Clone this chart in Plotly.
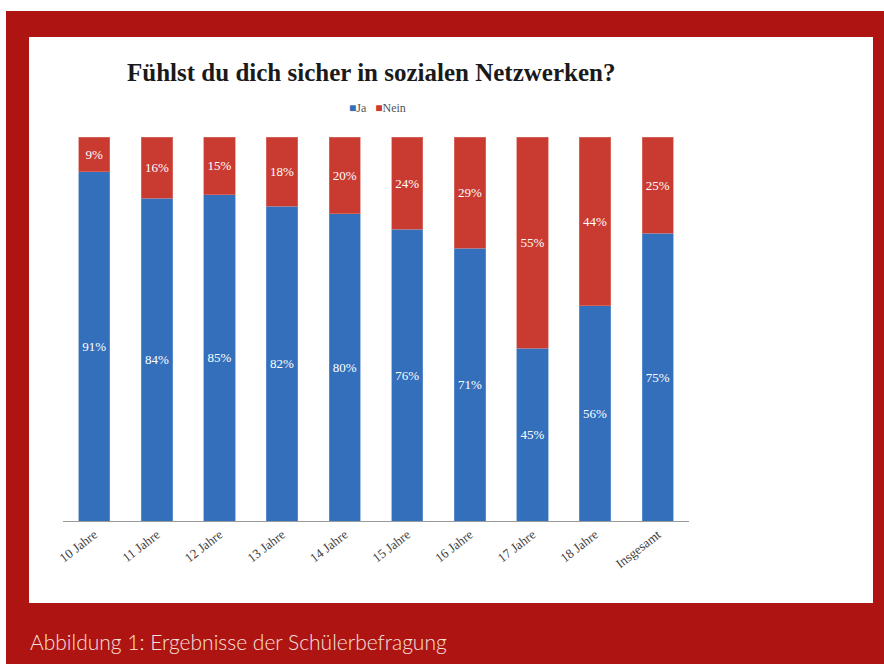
import plotly.graph_objects as go

# Survey results by age group
categories = ["10 Jahre", "11 Jahre", "12 Jahre", "13 Jahre", "14 Jahre",
              "15 Jahre", "16 Jahre", "17 Jahre", "18 Jahre", "Insgesamt"]
ja = [91, 84, 85, 82, 80, 76, 71, 45, 56, 75]
nein = [9, 16, 15, 18, 20, 24, 29, 55, 44, 25]
series_names = ["Ja", "Nein"]

W, H = 884, 664
# plot area in pixels
PL, PR, PT, PB = 63, 689, 137, 521

BLUE = "#336FBB"
RED = "#C93A31"
FRAME = "#AE1411"
SERIF = "Liberation Serif, Times New Roman, serif"


def px_x(x):
    return (x - PL) / (PR - PL)


def px_y(y):
    return (PB - y) / (PB - PT)


fig = go.Figure()
for name, vals, col, edge in [(series_names[0], ja, BLUE, "#6E9BD6"),
                              (series_names[1], nein, RED, "#DE7A72")]:
    fig.add_trace(go.Bar(
        name=name, x=categories, y=vals,
        marker=dict(color=col, line=dict(color=edge, width=0.6)),
        text=[f"{v}%" for v in vals], textposition="inside",
        insidetextanchor="middle", textangle=0,
        textfont=dict(family=SERIF, size=13, color="white"),
    ))

shapes = [
    # red frame
    dict(type="rect", xref="paper", yref="paper", layer="below",
         x0=px_x(6), x1=px_x(W + 2), y0=px_y(H + 2), y1=px_y(11),
         fillcolor=FRAME, line=dict(width=0)),
    # white chart panel
    dict(type="rect", xref="paper", yref="paper", layer="below",
         x0=px_x(29), x1=px_x(873), y0=px_y(603), y1=px_y(37),
         fillcolor="white", line=dict(width=0)),
]

legend_text = (f"<span style='color:{BLUE}'>■</span>{series_names[0]}&nbsp;&nbsp;&nbsp;"
               f"<span style='color:{RED}'>■</span>{series_names[1]}")

annotations = [
    dict(text="<b>Fühlst du dich sicher in sozialen Netzwerken?</b>",
         xref="paper", yref="paper", x=px_x(371), y=px_y(72),
         xanchor="center", yanchor="middle", showarrow=False,
         font=dict(family=SERIF, size=25, color="#1a1a1a")),
    dict(text=legend_text,
         xref="paper", yref="paper", x=px_x(377), y=px_y(108),
         xanchor="center", yanchor="middle", showarrow=False,
         font=dict(family=SERIF, size=12, color="#555555")),
    dict(text="Abbildung 1: Ergebnisse der Schülerbefragung",
         xref="paper", yref="paper", x=px_x(28), y=px_y(641),
         xanchor="left", yanchor="middle", showarrow=False,
         font=dict(family="Lato, sans-serif", size=21, color="#F6E0DF",
                   weight=300)),
]

fig.update_layout(
    width=W, height=H,
    margin=dict(l=PL, r=W - PR, t=PT, b=H - PB),
    paper_bgcolor="white", plot_bgcolor="rgba(0,0,0,0)",
    barmode="stack", bargap=0.5,
    showlegend=False,
    shapes=shapes, annotations=annotations,
    uniformtext=dict(minsize=8, mode="show"),
)
fig.update_xaxes(showline=True, linecolor="#9a9a9a", linewidth=1,
                 ticks="", tickangle=-38,
                 tickfont=dict(family=SERIF, size=13, color="#3a3a3a"),
                 showgrid=False)
fig.update_yaxes(range=[0, 100], visible=False, showgrid=False)

fig.write_html("out.html")
